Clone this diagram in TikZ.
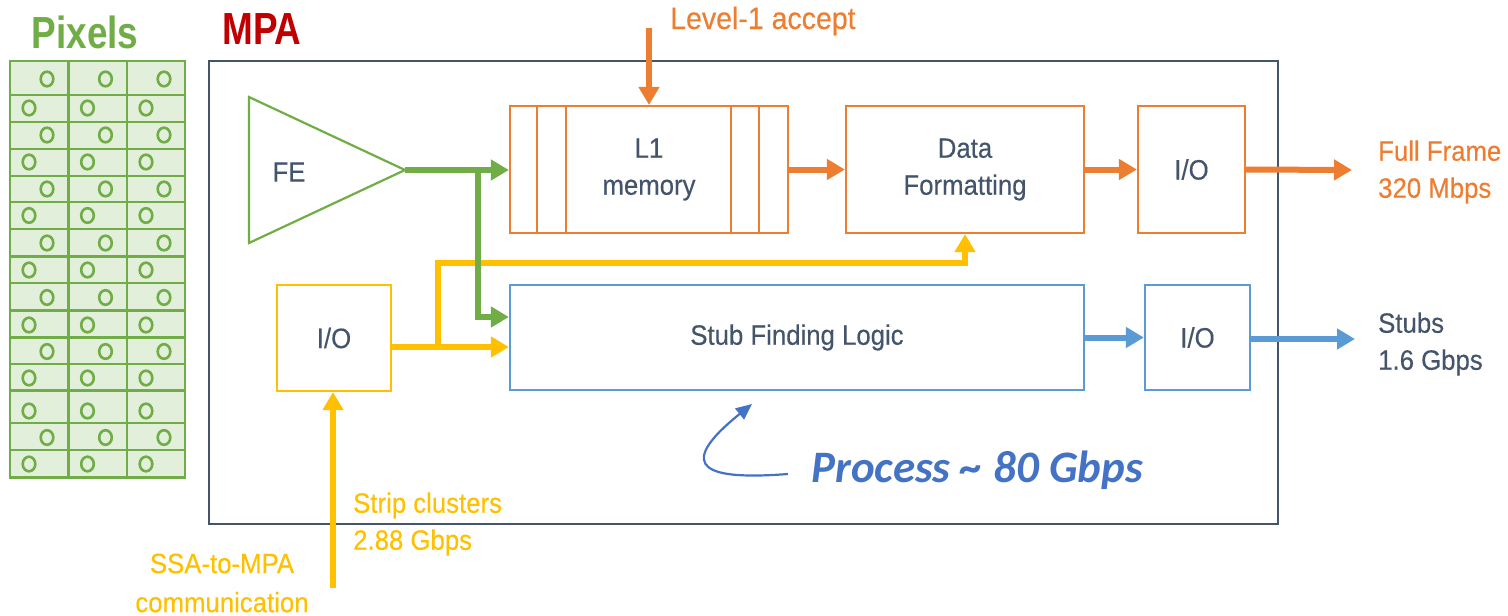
\documentclass[tikz,border=0pt]{standalone}
\usepackage{fontspec}
\setmainfont{Liberation Sans}[FakeStretch=0.92,FakeBold=0.3]
\newfontfamily\narrowfont{Liberation Sans}[FakeStretch=0.82]
\newfontfamily\procfont{Carlito}
\usetikzlibrary{arrows.meta,calc}
\definecolor{pxgreen}{HTML}{70AD47}
\definecolor{pxfill}{HTML}{E2EFDA}
\definecolor{orng}{HTML}{ED7D31}
\definecolor{lblue}{HTML}{5B9BD5}
\definecolor{yel}{HTML}{FFC000}
\definecolor{slate}{HTML}{44546A}
\definecolor{dred}{HTML}{C00000}
\definecolor{pblue}{HTML}{4472C4}
\begin{document}
\begin{tikzpicture}[x=1pt,y=-1pt,
  txt/.style={text=slate, font=\fontsize{28}{37}\selectfont, align=center},
  blk/.style={draw, line width=2.2pt, fill=white, inner sep=0pt, txt},
  flow/.style={line width=6pt, -{Triangle[length=18pt,width=20pt]}},
  gridline/.style={draw=pxgreen, line width=2.8pt},
  ring/.style={draw=pxgreen, line width=2.6pt},
  lbl/.style={font=\fontsize{28}{37}\selectfont, align=left, anchor=west, inner sep=0pt},
  title/.style={font=\narrowfont\bfseries\fontsize{45}{45}\selectfont, inner sep=0pt}
]
\useasboundingbox (0,0) rectangle (1508,616);

% ---------- Pixels ----------
\node[title, text=pxgreen] (pixtitle) at (85,32) {Pixels};
\fill[pxfill] (10,61) rectangle (185,477.5);
\foreach \y in {95,122,149,176,202,229,256.5,283,310.5,337.5,364,390.5,423,450}
  \draw[gridline] (10,\y) -- (185,\y);
\foreach \x in {68.5,127}
  \draw[gridline] (\x,61) -- (\x,477.5);
\draw[gridline] (10,61) rectangle (185,477.5);
\foreach \y/\o in {79/37,108/19,135/37,162/19,189/37,215.5/19,243/37,270/19,297.5/37,325/19,351.5/37,378/19,411/19,437.5/37,464/19}
  \foreach \c in {10,68.5,127}
    \draw[ring] (\c+\o,\y) ellipse [x radius=6.3pt, y radius=7.3pt];

% ---------- MPA frame ----------
\node[title, text=dred] (mpatitle) at (262,29) {MPA};
\draw[slate, line width=2.2pt] (209,61) rectangle (1278,524);

% ---------- FE ----------
\draw[pxgreen, line width=2.2pt, line join=miter] (249,97) -- (405,170) -- (249,243) -- cycle;
\node[txt] (fe) at (289,172) {FE};
\coordinate (FEtip) at (405,170);

% ---------- top row ----------
\node[blk, draw=orng, minimum width=278pt, minimum height=127pt] (L1) at (649,169.5) {L1\\memory};
\foreach \dx in {28,57,222,250}
  \draw[orng, line width=2.2pt] (L1.north west) ++(\dx,0) -- ++(0,127);
\node[blk, draw=orng, minimum width=238pt, minimum height=127pt] (DF) at (965,169.5) {Data\\Formatting};
\node[blk, draw=orng, minimum width=107pt, minimum height=127pt] (IOt) at (1191.5,169.5) {I/O};

% ---------- bottom row ----------
\node[blk, draw=lblue, minimum width=574pt, minimum height=105pt] (Stub) at (797,337.5) {\raisebox{-3pt}{Stub Finding Logic}};
\node[blk, draw=lblue, minimum width=105pt, minimum height=105pt] (IOs) at (1197.5,337.5) {I/O};
\node[blk, draw=yel, minimum width=114pt, minimum height=106pt] (IOy) at (334,338) {I/O};

% ---------- labels ----------
\node[lbl, text=orng, font=\fontsize{31}{37}\selectfont] (l1lab) at (670,21) {Level-1 accept};
\node[lbl, text=orng] (fflab) at (1378,172) {Full Frame\\320 Mbps};
\node[lbl, text=slate] (stlab) at (1378,344) {Stubs\\1.6 Gbps};
\node[lbl, text=yel] (sclab) at (353,524) {Strip clusters\\2.88 Gbps};
\node[font=\fontsize{28}{39}\selectfont, align=center, text=yel, inner sep=0pt] (ssalab) at (222,583) {SSA-to-MPA\\communication};
\node[font=\procfont\bfseries\itshape\fontsize{45}{45}\selectfont, text=pblue, inner sep=0pt] (proc) at (977,470) {Process \char"007E{} 80 Gbps};

% ---------- coordinates ----------
\coordinate (l1in) at (649,28);
\coordinate (ffout) at (1352,170);
\coordinate (stout) at (1355,339);
\coordinate (ssain) at (333,588);
\coordinate (gb) at (478,170);
\coordinate (gl) at (478,317);
\coordinate (yl) at (0,347);
\coordinate (yb) at (438,347);
\coordinate (yt) at (438,263);
\coordinate (cs) at (788,474);
\coordinate (ce) at (752,404);

% ---------- connectors ----------
\draw[flow, orng] (l1in) -- (L1.north);
\draw[flow, orng] (L1.east) -- (DF.west);
\draw[flow, orng] (DF.east) -- (IOt.west);
\draw[flow, orng] (IOt.east) -- (ffout);

\draw[flow, lblue] (Stub.east) -- (IOs.west);
\draw[flow, lblue] (IOs.east |- stout) -- (stout);

\draw[flow, yel] (ssain) -- (IOy.south -| ssain);
\draw[flow, yel] (IOy.east |- yl) -- (Stub.west |- yl);
\draw[flow, yel] (yb) -- (yt) -| (DF.south);

\draw[flow, pxgreen, line width=5.5pt] (FEtip) -- (L1.west |- FEtip);
\draw[flow, pxgreen, line width=5.5pt] (gb) -- (gl) -- (Stub.west |- gl);

\draw[pblue, line width=2.2pt, -{Triangle[length=16pt,width=14pt]}] (cs) .. controls (710,480) and (670,470) .. (ce);
\end{tikzpicture}
\end{document}
